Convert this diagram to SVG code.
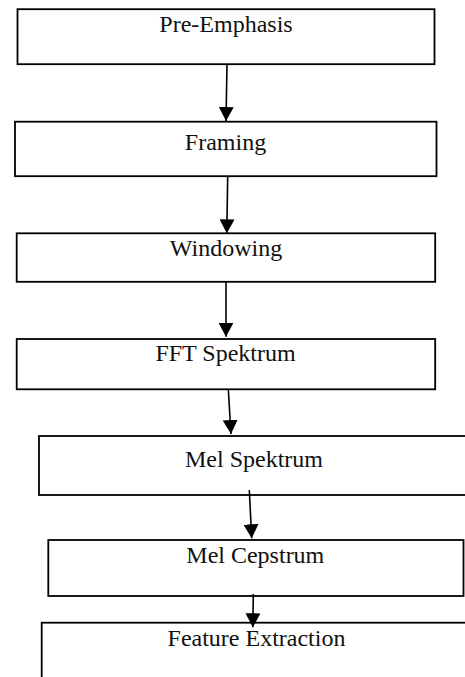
<svg xmlns="http://www.w3.org/2000/svg" width="465" height="677" viewBox="0 0 465 677">
<style>
.box{fill:none;stroke:#000;stroke-width:1.8}
.lbl{font-family:"Liberation Serif","Times New Roman",serif;font-size:24px;fill:#111;text-anchor:middle}
.conn line{stroke:#000;stroke-width:1.6}
</style>
<defs>
<marker id="ah" viewBox="0 0 14 15" refX="14" refY="7.5" markerWidth="14" markerHeight="15" markerUnits="userSpaceOnUse" orient="auto">
<path d="M0,0 L14,7.5 L0,15 z" fill="#000"/>
</marker>
</defs>
<rect width="465" height="677" fill="#fff"/>
<g id="n1"><rect class="box" x="17.5" y="9.2" width="417" height="55"/><text class="lbl" x="226" y="31.5">Pre-Emphasis</text></g>
<g id="n2"><rect class="box" x="15" y="121.7" width="421.5" height="54.5"/><text class="lbl" x="225.5" y="149.5">Framing</text></g>
<g id="n3"><rect class="box" x="16.7" y="233.3" width="418.5" height="48.5"/><text class="lbl" x="226" y="255.5">Windowing</text></g>
<g id="n4"><rect class="box" x="16.7" y="339" width="418.5" height="50.3"/><text class="lbl" x="225.5" y="360.7">FFT Spektrum</text></g>
<g id="n5"><rect class="box" x="39" y="436" width="440" height="59"/><text class="lbl" x="254" y="466.7">Mel Spektrum</text></g>
<g id="n6"><rect class="box" x="48.3" y="540" width="415.2" height="56"/><text class="lbl" x="255.3" y="562.7">Mel Cepstrum</text></g>
<g id="n7"><rect class="box" x="41.7" y="622.7" width="440" height="80"/><text class="lbl" x="256.5" y="646">Feature Extraction</text></g>
<g class="conn" id="connectors">
<line x1="227" y1="64" x2="226" y2="121" marker-end="url(#ah)"/>
<line x1="227.7" y1="176" x2="226.8" y2="233.3" marker-end="url(#ah)"/>
<line x1="226" y1="281.7" x2="226" y2="336.7" marker-end="url(#ah)"/>
<line x1="228.3" y1="389.3" x2="231" y2="434" marker-end="url(#ah)"/>
<line x1="249.3" y1="490" x2="251.7" y2="538.3" marker-end="url(#ah)"/>
<line x1="253.3" y1="594" x2="252.8" y2="627.3" marker-end="url(#ah)"/>
</g>
</svg>
